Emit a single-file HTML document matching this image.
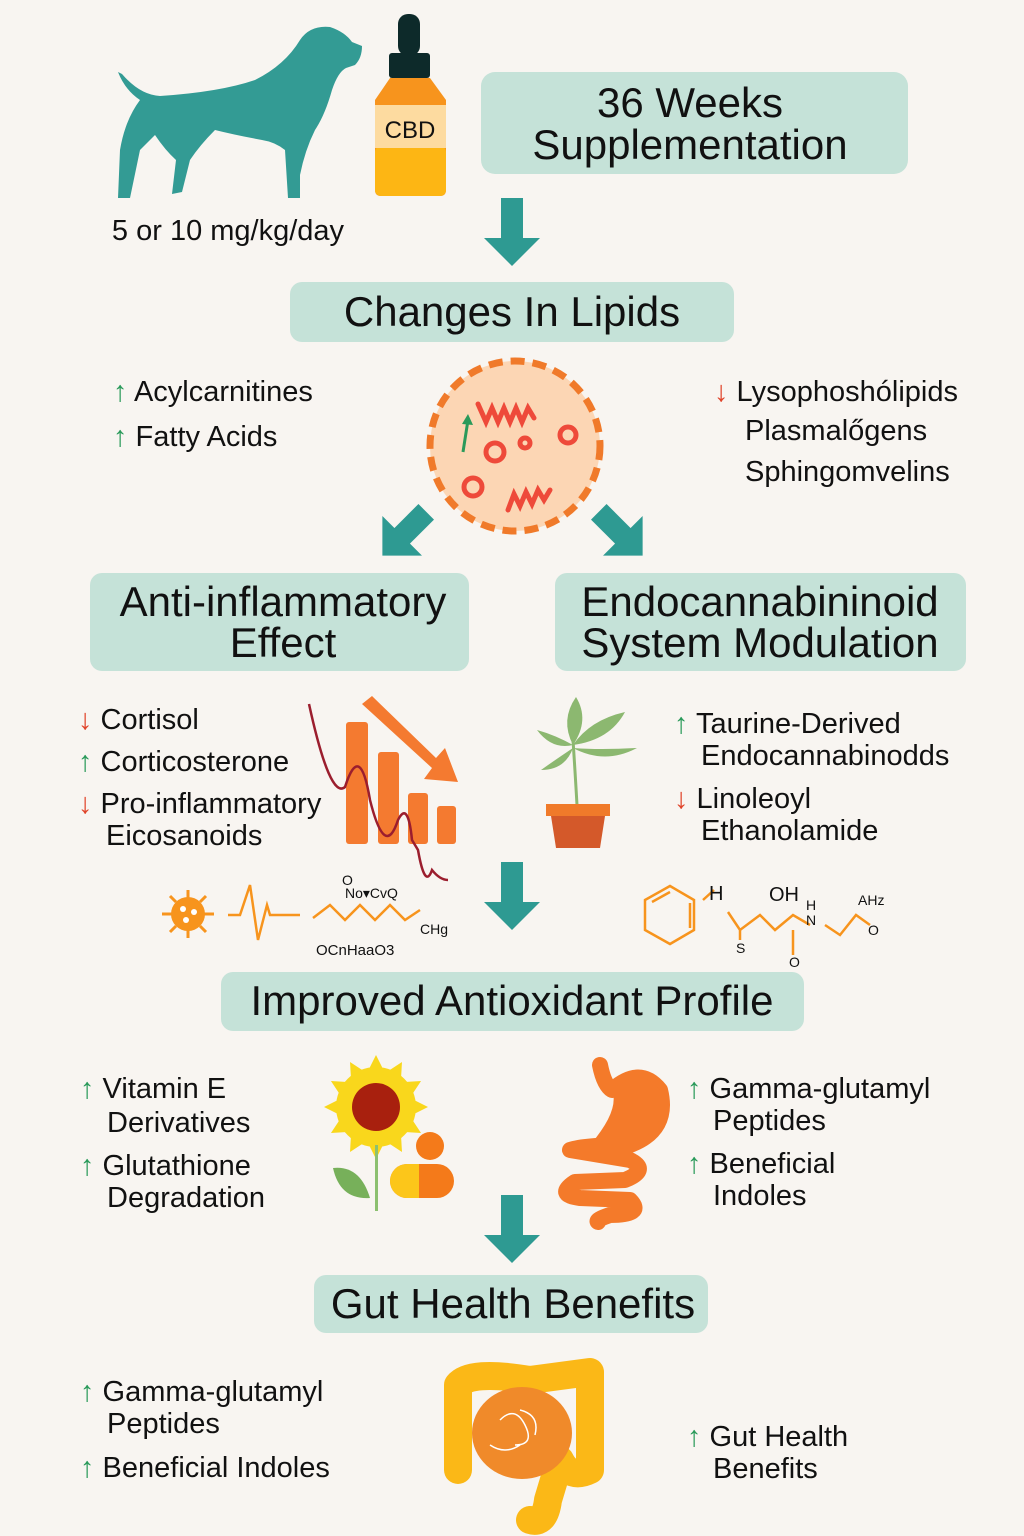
<!DOCTYPE html>
<html><head><meta charset="utf-8"><style>
html,body{margin:0;padding:0;background:#f8f5f1}
svg{display:block}
text{font-family:"Liberation Sans",sans-serif;fill:#111}
.t{font-size:42px}
.l{font-size:29px}
.up{fill:#2a9a5a;font-weight:bold}
.dn{fill:#e0442a;font-weight:bold}
</style></head><body>
<svg width="1024" height="1536" viewBox="0 0 1024 1536" xmlns="http://www.w3.org/2000/svg">
<rect width="1024" height="1536" fill="#f8f5f1"/>
<defs>
<g id="da"><rect x="-11" y="0" width="22" height="42" fill="#2e9a92"/><polygon points="-28,40 28,40 0,68" fill="#2e9a92"/></g>
</defs>
<!-- dog -->
<path d="M118,72 L122,74 Q140,95 160,96 Q220,92 255,80 Q285,65 300,40 Q310,25 330,27 Q345,32 352,42 L362,46 Q362,58 355,65 L346,68 Q338,72 332,90 Q325,115 315,130 Q305,150 300,175 L300,198 L288,198 L285,150 Q275,142 262,140 Q235,135 215,130 Q200,145 190,160 L182,192 L172,194 L176,160 Q165,150 155,135 L140,150 L130,198 L118,198 L120,150 Q125,120 140,100 Q125,90 118,72Z" fill="#339b94"/>
<!-- bottle -->
<rect x="398" y="14" width="22" height="42" rx="10" fill="#0d2a2a"/>
<rect x="389" y="53" width="41" height="25" rx="3" fill="#0d2a2a"/>
<path d="M390,78 L430,78 L446,100 L446,190 Q446,196 440,196 L381,196 Q375,196 375,190 L375,100 Z" fill="#f7941d"/>
<rect x="375" y="146" width="71" height="50" rx="6" fill="#fdb614"/>
<rect x="375" y="105" width="71" height="43" fill="#fddba0"/>
<text x="410" y="138" text-anchor="middle" style="font-size:24px">CBD</text>
<text x="228" y="240" text-anchor="middle" style="font-size:29px">5 or 10 mg/kg/day</text>
<!-- boxes -->
<rect x="481" y="72" width="427" height="102" rx="14" fill="#c5e2d8"/>
<text x="690" y="117" text-anchor="middle" class="t">36 Weeks</text>
<text x="690" y="159" text-anchor="middle" class="t">Supplementation</text>
<use href="#da" x="512" y="198"/>
<rect x="290" y="282" width="444" height="60" rx="12" fill="#c5e2d8"/>
<text x="512" y="326" text-anchor="middle" class="t">Changes In Lipids</text>
<!-- lipid list -->
<text x="113" y="401" class="l"><tspan class="up">↑</tspan> Acylcarnitines</text>
<text x="113" y="446" class="l"><tspan class="up">↑</tspan> Fatty Acids</text>
<text x="714" y="401" class="l"><tspan class="dn">↓</tspan> Lysophoshólipids</text>
<text x="745" y="440" class="l">Plasmalőgens</text>
<text x="745" y="481" class="l">Sphingomvelins</text>
<!-- cell -->
<circle cx="515" cy="446" r="85" fill="#fcd6b4" stroke="#f07a2a" stroke-width="7" stroke-dasharray="14 8"/>
<g fill="none" stroke="#ee4a3a" stroke-width="5" stroke-linecap="round">
<path d="M478,404 l8,18 l6,-14 l6,14 l6,-14 l6,14 l6,-14 l6,14 l6,-14 l6,10"/>
<path d="M508,510 l6,-16 l6,12 l6,-14 l6,12 l6,-14 l6,10 l6,-10"/>
<circle cx="495" cy="452" r="9"/><circle cx="525" cy="443" r="5"/><circle cx="568" cy="435" r="8"/><circle cx="473" cy="487" r="9"/>
</g>
<path d="M463,452 L468,420" stroke="#2a9a5a" stroke-width="3"/><polygon points="462,424 468,414 473,425" fill="#2a9a5a"/>
<!-- diag arrows -->
<g transform="translate(405,533) rotate(45)"><rect x="-11" y="-30" width="22" height="36" fill="#2e9a92"/><polygon points="-28,4 28,4 0,32" fill="#2e9a92"/></g>
<g transform="translate(620,533) rotate(-45)"><rect x="-11" y="-30" width="22" height="36" fill="#2e9a92"/><polygon points="-28,4 28,4 0,32" fill="#2e9a92"/></g>
<rect x="90" y="573" width="379" height="98" rx="12" fill="#c5e2d8"/>
<text x="283" y="616" text-anchor="middle" class="t">Anti-inflammatory</text>
<text x="283" y="657" text-anchor="middle" class="t">Effect</text>
<rect x="555" y="573" width="411" height="98" rx="12" fill="#c5e2d8"/>
<text x="760" y="616" text-anchor="middle" class="t">Endocannabininoid</text>
<text x="760" y="657" text-anchor="middle" class="t">System Modulation</text>
<!-- anti list -->
<text x="78" y="729" class="l"><tspan class="dn">↓</tspan> Cortisol</text>
<text x="78" y="771" class="l"><tspan class="up">↑</tspan> Corticosterone</text>
<text x="78" y="813" class="l"><tspan class="dn">↓</tspan> Pro-inflammatory</text>
<text x="106" y="845" class="l">Eicosanoids</text>
<!-- chart -->
<g fill="#f47a30"><rect x="346" y="722" width="22" height="122" rx="3"/><rect x="378" y="752" width="21" height="92" rx="3"/><rect x="408" y="793" width="20" height="51" rx="3"/><rect x="437" y="806" width="19" height="38" rx="3"/>
<polygon points="362,704 372,696 436,758 445,748 458,782 424,779 432,768"/></g>
<path d="M309,704 Q330,800 345,787 Q360,740 370,800 Q385,860 398,820 Q408,800 412,840 L418,850 Q425,890 432,870 Q440,880 448,880" fill="none" stroke="#9b1e2e" stroke-width="2.5"/>
<!-- plant -->
<path d="M573,740 Q575,770 577,805" stroke="#8cb870" stroke-width="3" fill="none"/>
<g fill="#8cb870"><path d="M573,745 Q560,720 576,697 Q590,720 573,745Z"/><path d="M573,745 Q590,720 625,712 Q610,740 573,745Z"/><path d="M573,745 Q555,735 537,730 Q552,750 573,745Z"/><path d="M573,748 Q600,750 637,748 Q605,765 573,748Z"/><path d="M573,748 Q555,760 541,770 Q565,770 573,748Z"/></g>
<rect x="546" y="804" width="64" height="12" fill="#f07a2a"/>
<polygon points="551,816 605,816 600,848 556,848" fill="#d4592a"/>
<text x="674" y="733" class="l"><tspan class="up">↑</tspan> Taurine-Derived</text>
<text x="701" y="765" class="l">Endocannabinodds</text>
<text x="674" y="808" class="l"><tspan class="dn">↓</tspan> Linoleoyl</text>
<text x="701" y="840" class="l">Ethanolamide</text>
<use href="#da" x="512" y="862"/>
<!-- molecules -->
<g stroke="#f7941d" stroke-width="2.5" fill="none">
<path d="M228,915 L240,915 L250,885 L258,940 L267,905 L270,915 L300,915"/>
<path d="M313,918 L330,905 L345,920 L360,905 L375,920 L390,905 L405,920 L420,910"/>
<path d="M645,900 L670,886 L694,900 L694,930 L670,944 L645,930 Z M652,902 L670,892 M690,903 L690,928 M703,900 L714,890"/>
<path d="M728,912 L740,930 L760,915 L775,930 L793,915 L810,925 M740,930 L740,940 M793,930 L793,955 M825,925 L840,935 L856,915 L870,925"/>
</g>
<circle cx="188" cy="914" r="17" fill="#f7941d"/>
<g fill="#f7941d" stroke="#f7941d" stroke-width="3"><path d="M172,914 h-10 M204,914 h10 M188,898 v-8 M188,930 v8 M176,902 l-6,-6 M200,902 l6,-6 M176,926 l-6,6 M200,926 l6,6"/></g>
<g fill="#fff"><circle cx="183" cy="909" r="3"/><circle cx="194" cy="912" r="3"/><circle cx="186" cy="920" r="3"/></g>
<g style="font-size:14px"><text x="342" y="885" fill="#f7941d">O</text><text x="345" y="898" fill="#f7941d">No▾CvQ</text><text x="420" y="934" fill="#f7941d">CHg</text><text x="316" y="955" fill="#f7941d" style="font-size:15px">OCnHaaO3</text>
<text x="709" y="900" fill="#f7941d" style="font-size:20px">H</text><text x="769" y="901" fill="#f7941d" style="font-size:20px">OH</text><text x="806" y="910" fill="#f7941d">H</text><text x="806" y="925" fill="#f7941d">N</text><text x="858" y="905" fill="#f7941d">AHz</text><text x="868" y="935" fill="#f7941d">O</text><text x="736" y="953" fill="#f7941d">S</text><text x="789" y="967" fill="#f7941d">O</text></g>
<rect x="221" y="972" width="583" height="59" rx="12" fill="#c5e2d8"/>
<text x="512" y="1015" text-anchor="middle" class="t">Improved Antioxidant Profile</text>
<text x="80" y="1098" class="l"><tspan class="up">↑</tspan> Vitamin E</text>
<text x="107" y="1132" class="l">Derivatives</text>
<text x="80" y="1175" class="l"><tspan class="up">↑</tspan> Glutathione</text>
<text x="107" y="1207" class="l">Degradation</text>
<!-- sunflower -->
<g fill="#f9d71c"><circle cx="376" cy="1107" r="40"/>
<g id="pt"><polygon points="376,1055 386,1075 366,1075"/><polygon points="376,1159 386,1139 366,1139"/><polygon points="324,1107 344,1097 344,1117"/><polygon points="428,1107 408,1097 408,1117"/></g>
<use href="#pt" transform="rotate(30 376 1107)"/><use href="#pt" transform="rotate(60 376 1107)"/></g>
<circle cx="376" cy="1107" r="24" fill="#a8200e"/>
<rect x="375" y="1145" width="3" height="66" fill="#8cc070"/>
<path d="M333,1168 Q360,1165 370,1198 Q340,1200 333,1168Z" fill="#77b05a"/>
<circle cx="430" cy="1146" r="14" fill="#f47a1a"/>
<rect x="390" y="1164" width="64" height="34" rx="17" fill="#f47a1a"/>
<path d="M419,1164 L419,1198 L407,1198 A17,17 0 0 1 407,1164Z" fill="#fcc61a"/>
<!-- stomach -->
<path d="M600,1065 Q604,1085 612,1090 Q640,1065 660,1090 Q670,1130 630,1145 Q585,1145 570,1150 L630,1160 Q650,1170 625,1180 L575,1182 Q555,1195 580,1198 L630,1200 Q645,1215 610,1215 Q595,1220 598,1222" fill="none" stroke="#f47a2a" stroke-width="16" stroke-linecap="round" stroke-linejoin="round"/>
<path d="M612,1090 Q640,1065 660,1090 Q670,1130 630,1145 Q600,1145 590,1145 Q620,1110 612,1090Z" fill="#f47a2a"/>
<text x="687" y="1098" class="l"><tspan class="up">↑</tspan> Gamma-glutamyl</text>
<text x="713" y="1130" class="l">Peptides</text>
<text x="687" y="1173" class="l"><tspan class="up">↑</tspan> Beneficial</text>
<text x="713" y="1205" class="l">Indoles</text>
<use href="#da" x="512" y="1195"/>
<rect x="314" y="1275" width="394" height="58" rx="12" fill="#c5e2d8"/>
<text x="513" y="1318" text-anchor="middle" class="t">Gut Health Benefits</text>
<text x="80" y="1401" class="l"><tspan class="up">↑</tspan> Gamma-glutamyl</text>
<text x="107" y="1433" class="l">Peptides</text>
<text x="80" y="1477" class="l"><tspan class="up">↑</tspan> Beneficial Indoles</text>
<text x="687" y="1446" class="l"><tspan class="up">↑</tspan> Gut Health</text>
<text x="713" y="1478" class="l">Benefits</text>
<!-- intestine -->
<path d="M458,1470 L458,1385 Q470,1370 530,1380 L590,1372 L590,1470 Q570,1480 560,1460 L548,1500 Q545,1525 530,1520" fill="none" stroke="#fbb817" stroke-width="28" stroke-linejoin="round" stroke-linecap="round"/>
<ellipse cx="522" cy="1433" rx="50" ry="46" fill="#f08a2a"/>
<path d="M500,1420 q15,-15 25,5 q10,20 -10,20 M520,1410 q20,5 15,25 M490,1445 q15,10 30,0" stroke="#fff" stroke-width="1.5" fill="none"/>
</svg>
</body></html>
